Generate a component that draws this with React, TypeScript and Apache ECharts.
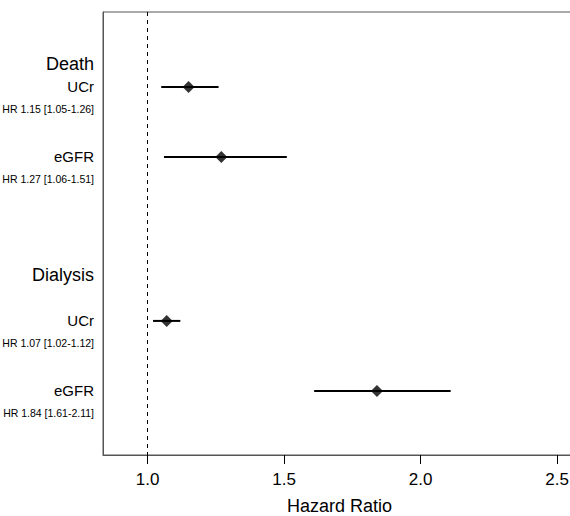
import React, { useEffect, useRef } from "react";
import * as echarts from "echarts";

// ---- data ----
const outcomes = ["Death", "Death", "Dialysis", "Dialysis"];
const measures = ["UCr", "eGFR", "UCr", "eGFR"];
const hr = [1.15, 1.27, 1.07, 1.84];
const lower = [1.05, 1.06, 1.02, 1.61];
const upper = [1.26, 1.51, 1.12, 2.11];
const xTicks = [1.0, 1.5, 2.0, 2.5];
const groupNames = ["Death", "Dialysis"];

// ---- layout (row positions on a hidden vertical value axis) ----
const rowY = [1.071, 2.071, 4.414, 5.414];
const groupY = [0.743, 3.757];
const measureLabelShift = 0.0;
const hrLabelOffset = 0.318;
const Y_MAX = 6.33;

const FONT = "'Liberation Sans', Arial, Helvetica, sans-serif";

export default function App() {
  const ref = useRef<HTMLDivElement>(null);

  useEffect(() => {
    if (!ref.current) return;
    const chart = echarts.init(ref.current, null, { renderer: "svg" });

    const labelVals: number[] = [];
    const labelTexts: string[] = [];
    groupNames.forEach((g, gi) => {
      labelVals.push(groupY[gi]);
      labelTexts.push(`{h|${g}}`);
    });
    outcomes.forEach((_, i) => {
      labelVals.push(rowY[i] + measureLabelShift);
      labelTexts.push(`{s|${measures[i]}}`);
      labelVals.push(rowY[i] + hrLabelOffset);
      labelTexts.push(
        `{r|HR ${hr[i].toFixed(2)} [${lower[i].toFixed(2)}-${upper[i].toFixed(2)}]}`
      );
    });

    const findLabel = (v: number) => {
      let best = 0;
      let bd = Infinity;
      labelVals.forEach((lv, i) => {
        const d = Math.abs(lv - v);
        if (d < bd) {
          bd = d;
          best = i;
        }
      });
      return labelTexts[best];
    };

    chart.setOption({
      animation: false,
      textStyle: { fontFamily: FONT },
      grid: {
        left: 103,
        top: 12,
        bottom: 61,
        right: 0,
        show: true,
        borderColor: "#555",
        borderWidth: 1,
        containLabel: false,
        outerBoundsMode: "none",
      },
      xAxis: {
        type: "value",
        min: 0.8367,
        max: 2.5691,
        splitLine: { show: false },
        axisLine: { show: true, onZero: false, lineStyle: { color: "#555", width: 1 } },
        axisTick: {
          show: true,
          length: 9,
          customValues: xTicks,
          lineStyle: { color: "#000", width: 1 },
        },
        axisLabel: {
          customValues: xTicks,
          formatter: (v: number) => v.toFixed(1),
          fontSize: 17,
          color: "#000",
          margin: 16,
          fontFamily: FONT,
        },
        name: "Hazard Ratio",
        nameLocation: "middle",
        nameGap: 42,
        nameTextStyle: { fontSize: 18, color: "#000", fontFamily: FONT },
      },
      yAxis: {
        type: "value",
        inverse: true,
        min: 0,
        max: Y_MAX,
        splitLine: { show: false },
        axisLine: { show: true, lineStyle: { color: "#555", width: 1 } },
        axisTick: { show: false },
        axisLabel: {
          customValues: labelVals,
          formatter: (v: number) => findLabel(v),
          margin: 9,
          color: "#000",
          fontFamily: FONT,
          rich: {
            h: { fontSize: 18, color: "#000", fontFamily: FONT },
            s: { fontSize: 15, color: "#000", fontFamily: FONT },
            r: { fontSize: 10.5, color: "#000", fontFamily: FONT },
          },
        },
      },
      series: [
        {
          type: "custom",
          name: "CI",
          encode: { x: [0, 1], y: 2 },
          data: outcomes.map((_, i) => [lower[i], upper[i], rowY[i]]),
          renderItem: (params: any, api: any) => {
            const a = api.coord([api.value(0), api.value(2)]);
            const b = api.coord([api.value(1), api.value(2)]);
            return {
              type: "line",
              shape: { x1: a[0], y1: a[1], x2: b[0], y2: b[1] },
              style: { stroke: "#000", lineWidth: 2 },
            };
          },
          z: 2,
        },
        {
          type: "scatter",
          name: "HR",
          symbol: "diamond",
          symbolSize: [12, 12],
          itemStyle: { color: "#000" },
          data: outcomes.map((_, i) => [hr[i], rowY[i]]),
          z: 3,
          markLine: {
            silent: true,
            symbol: ["none", "none"],
            label: { show: false },
            lineStyle: { type: [4, 4], color: "#000", width: 1 },
            data: [{ xAxis: 1 }],
          },
        },
      ],
    });

    return () => chart.dispose();
  }, []);

  return (
    <div
      style={{
        position: "absolute",
        left: 0,
        top: 0,
        width: 570,
        height: 516,
        overflow: "hidden",
      }}
    >
      <div ref={ref} style={{ width: 576, height: 516 }} />
    </div>
  );
}
